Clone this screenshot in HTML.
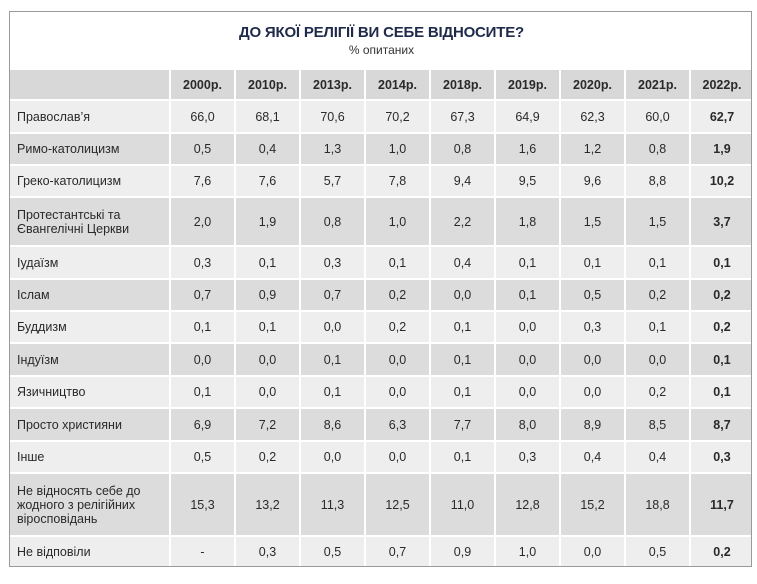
<!DOCTYPE html>
<html><head><meta charset="utf-8"><style>
body{margin:0;background:#fff;width:757px;height:584px;font-family:"Liberation Sans","DejaVu Sans",sans-serif;}
.box{position:absolute;left:9px;top:11px;width:743px;height:556px;border:1px solid #9a9a9a;box-sizing:border-box;background:#fff;overflow:hidden}
.t{position:absolute;left:0;width:743px;text-align:center;top:12px;font-weight:bold;font-size:15px;color:#1f2a4a;letter-spacing:-0.2px}
.s{position:absolute;left:0;width:743px;text-align:center;top:31px;font-size:12px;color:#333}
table{position:absolute;left:-2px;top:56px;border-collapse:collapse;font-size:12.5px;color:#2a2a2a;table-layout:fixed;width:745px}
td{border:2px solid #fff;padding:0;text-align:center;vertical-align:middle;overflow:hidden}
td:first-child{text-align:left;padding-left:7px}
tr.h td{background:#d8d8d8;font-weight:bold;height:29px}
tr.l td{background:#efeeee}
tr.g td{background:#dcdcdc}
td.b{font-weight:bold}
</style></head><body>
<div class="box">
<div class="t">ДО ЯКОЇ РЕЛІГІЇ ВИ СЕБЕ ВІДНОСИТЕ?</div>
<div class="s">% опитаних</div>
<table>
<colgroup><col style="width:161px"><col style="width:65px"><col style="width:65px"><col style="width:65px"><col style="width:65px"><col style="width:65px"><col style="width:65px"><col style="width:65px"><col style="width:65px"><col style="width:64px"></colgroup>
<tr class="h"><td></td><td>2000р.</td><td>2010р.</td><td>2013р.</td><td>2014р.</td><td>2018р.</td><td>2019р.</td><td>2020р.</td><td>2021р.</td><td>2022р.</td></tr>
<tr class="l" style="height:33px"><td>Православ’я</td><td>66,0</td><td>68,1</td><td>70,6</td><td>70,2</td><td>67,3</td><td>64,9</td><td>62,3</td><td>60,0</td><td class="b">62,7</td></tr>
<tr class="g" style="height:32px"><td>Римо-католицизм</td><td>0,5</td><td>0,4</td><td>1,3</td><td>1,0</td><td>0,8</td><td>1,6</td><td>1,2</td><td>0,8</td><td class="b">1,9</td></tr>
<tr class="l" style="height:32px"><td>Греко-католицизм</td><td>7,6</td><td>7,6</td><td>5,7</td><td>7,8</td><td>9,4</td><td>9,5</td><td>9,6</td><td>8,8</td><td class="b">10,2</td></tr>
<tr class="g" style="height:49px"><td>Протестантські та<br>Євангелічні Церкви</td><td>2,0</td><td>1,9</td><td>0,8</td><td>1,0</td><td>2,2</td><td>1,8</td><td>1,5</td><td>1,5</td><td class="b">3,7</td></tr>
<tr class="l" style="height:33px"><td>Іудаїзм</td><td>0,3</td><td>0,1</td><td>0,3</td><td>0,1</td><td>0,4</td><td>0,1</td><td>0,1</td><td>0,1</td><td class="b">0,1</td></tr>
<tr class="g" style="height:32px"><td>Іслам</td><td>0,7</td><td>0,9</td><td>0,7</td><td>0,2</td><td>0,0</td><td>0,1</td><td>0,5</td><td>0,2</td><td class="b">0,2</td></tr>
<tr class="l" style="height:32px"><td>Буддизм</td><td>0,1</td><td>0,1</td><td>0,0</td><td>0,2</td><td>0,1</td><td>0,0</td><td>0,3</td><td>0,1</td><td class="b">0,2</td></tr>
<tr class="g" style="height:33px"><td>Індуїзм</td><td>0,0</td><td>0,0</td><td>0,1</td><td>0,0</td><td>0,1</td><td>0,0</td><td>0,0</td><td>0,0</td><td class="b">0,1</td></tr>
<tr class="l" style="height:32px"><td>Язичництво</td><td>0,1</td><td>0,0</td><td>0,1</td><td>0,0</td><td>0,1</td><td>0,0</td><td>0,0</td><td>0,2</td><td class="b">0,1</td></tr>
<tr class="g" style="height:33px"><td>Просто християни</td><td>6,9</td><td>7,2</td><td>8,6</td><td>6,3</td><td>7,7</td><td>8,0</td><td>8,9</td><td>8,5</td><td class="b">8,7</td></tr>
<tr class="l" style="height:32px"><td>Інше</td><td>0,5</td><td>0,2</td><td>0,0</td><td>0,0</td><td>0,1</td><td>0,3</td><td>0,4</td><td>0,4</td><td class="b">0,3</td></tr>
<tr class="g" style="height:63px"><td>Не відносять себе до<br>жодного з релігійних<br>віросповідань</td><td>15,3</td><td>13,2</td><td>11,3</td><td>12,5</td><td>11,0</td><td>12,8</td><td>15,2</td><td>18,8</td><td class="b">11,7</td></tr>
<tr class="l" style="height:32px"><td>Не відповіли</td><td>-</td><td>0,3</td><td>0,5</td><td>0,7</td><td>0,9</td><td>1,0</td><td>0,0</td><td>0,5</td><td class="b">0,2</td></tr>
</table>
</div>
</body></html>
